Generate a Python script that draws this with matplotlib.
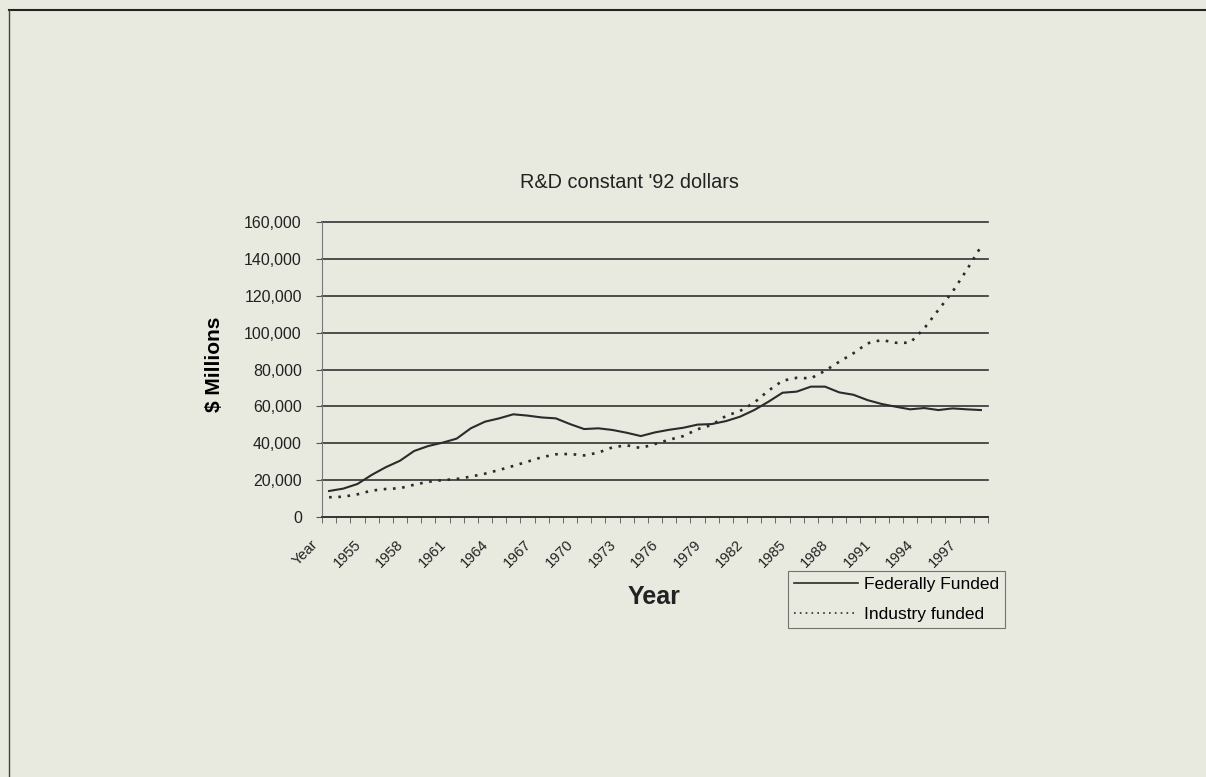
import numpy as np
import matplotlib
matplotlib.use("Agg")
from matplotlib import pyplot as plt
from matplotlib.lines import Line2D
from matplotlib.transforms import ScaledTranslation

plt.rcParams['font.family'] = ['Liberation Sans', 'DejaVu Sans']

# categories as they appear on the sheet (first row is the header cell)
categories = ['Year'] + [str(y) for y in range(1953, 1999)]

# $ millions, constant 1992 dollars
federal = [14100, 15400, 17900, 22800, 27000, 30500, 35800, 38500, 40300, 42500,
           48100, 51700, 53500, 55700, 55000, 54000, 53500, 50400, 47700, 48100,
           47200, 45700, 43900, 45900, 47300, 48400, 50100, 50400, 52000, 54400,
           58000, 62500, 67400, 68000, 70700, 70700, 67600, 66300, 63400, 61300,
           59800, 58400, 59100, 58000, 58900, 58400, 58000]
industry = [10700, 11000, 12300, 14300, 15200, 15600, 17500, 19100, 20000, 20600,
            21900, 23500, 25500, 27700, 30000, 32400, 34000, 34200, 33400, 34900,
            37800, 38900, 37400, 39600, 41900, 43900, 47600, 49900, 54800, 57500,
            62000, 68500, 73900, 75500, 75200, 79300, 84200, 88800, 94200, 96000,
            94500, 94500, 102300, 112300, 122200, 134000, 146600]

bg = '#e8e9df'
ink = '#2b2b2b'

fig = plt.figure(figsize=(12.06, 7.77), dpi=100, facecolor=bg)
ax = fig.add_axes([322/1206, 1 - 517/777, 666/1206, 295/777])
ax.set_facecolor(bg)

x = np.arange(len(categories))
ax.plot(x, federal, color=ink, lw=1.5, label='Federally Funded')
ax.plot(x, industry, color=ink, lw=1.9, linestyle=(0, (1, 2.5)), label='Industry funded')

ax.set_xlim(-0.5, len(categories) - 0.5)
ax.set_ylim(0, 160000)
ax.set_yticks(np.arange(0, 160001, 20000))
ax.set_yticklabels([f'{v:,}' for v in range(0, 160001, 20000)], fontsize=11.5, color='#222')
ax.yaxis.grid(True, color='#333333', lw=1.2)
for gl in ax.get_ygridlines():
    gl.set_clip_on(False)
ax.set_axisbelow(True)
ax.tick_params(axis='y', length=4.5, color='#555', pad=10)

label_idx = list(range(0, len(categories), 3))
ax.set_xticks(label_idx)
ax.set_xticklabels([categories[i] for i in label_idx], rotation=45, ha='right', va='center',
                   rotation_mode='anchor', fontsize=10.5, color='#222')
ax.tick_params(axis='x', length=0, pad=0)
shift = ScaledTranslation(-0.13, -0.25, fig.dpi_scale_trans)
for lab in ax.get_xticklabels():
    lab.set_transform(lab.get_transform() + shift)
ax.set_xticks(np.arange(-0.5, len(categories), 1), minor=True)
ax.tick_params(axis='x', which='minor', length=4, color='#555')

for s in ['top', 'right']:
    ax.spines[s].set_visible(False)
ax.spines['left'].set_color('#777')
ax.spines['left'].set_linewidth(0.8)
ax.spines['bottom'].set_color('#333')
ax.spines['bottom'].set_linewidth(1.2)

ax.set_ylabel('$ Millions', fontsize=15, fontweight='bold')
ax.yaxis.set_label_coords(215/1206, 1 - 364/777, transform=fig.transFigure)
ax.yaxis.label.set_va('center')
fig.text(654/1206, 1 - 597/777, 'Year', fontsize=18, fontweight='bold',
         ha='center', va='center', color='#222')
fig.text(629/1206, 1 - 182/777, "R&D constant '92 dollars", fontsize=14.3,
         ha='center', va='center', color='#222')

handles = [Line2D([], [], color=ink, lw=1.2),
           Line2D([], [], color=ink, lw=1.2, linestyle=(0, (1, 2.5)))]
leg = fig.legend(handles, ['Federally Funded', 'Industry funded'],
                 loc='upper left', bbox_to_anchor=(788/1206, 1 - 571/777),
                 fontsize=12.5, frameon=True, fancybox=False, handlelength=3.7,
                 handletextpad=0.3, borderpad=0.35, labelspacing=0.85,
                 borderaxespad=0)
leg.get_frame().set_facecolor(bg)
leg.get_frame().set_edgecolor('#555')
leg.get_frame().set_linewidth(0.8)

# page border (top and left edge of the scanned frame)
fig.add_artist(Line2D([9/1206, 1], [1 - 10/777, 1 - 10/777], color='#222', lw=1.5))
fig.add_artist(Line2D([9/1206, 9/1206], [0, 1 - 10/777], color='#444', lw=1.0))

fig.savefig('out.png', dpi=100, facecolor=bg)
